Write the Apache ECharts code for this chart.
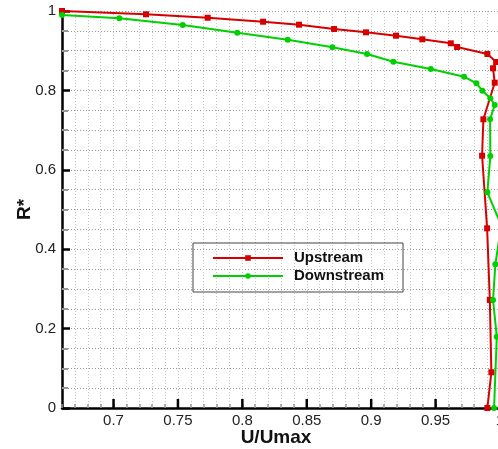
<!DOCTYPE html>
<html>
<head>
<meta charset="utf-8">
<script src="https://cdn.jsdelivr.net/npm/echarts@6/dist/echarts.min.js"></script>
<style>
  html, body { margin: 0; padding: 0; background: #fff; }
  #chart { width: 498px; height: 449px; }
</style>
</head>
<body>
<div id="chart"></div>
<script>
// velocity profiles
var upstreamU = [0.66, 0.7252, 0.7731, 0.8161, 0.844, 0.8712, 0.896, 0.9193, 0.9397, 0.9618, 0.9667,
  0.9902, 0.997, 0.9946, 0.9959, 0.9871, 0.9861, 0.99, 0.9921, 0.9933, 0.9902];
var upstreamR = [1.0, 0.9917, 0.983, 0.973, 0.9655, 0.9547, 0.9463, 0.9378, 0.9287, 0.9186, 0.9093,
  0.8917, 0.8715, 0.8557, 0.8194, 0.7272, 0.6355, 0.4526, 0.272, 0.09, 0];
var downstreamU = [0.66, 0.7045, 0.7537, 0.7961, 0.8352, 0.8699, 0.8968, 0.9172, 0.9463, 0.9721, 0.9817,
  0.9863, 0.9925, 0.9959, 0.9923, 0.9925, 0.9902, 1.001, 0.9964, 0.9946, 0.9975, 0.9954];
var downstreamR = [0.99, 0.9816, 0.9647, 0.9453, 0.9277, 0.9086, 0.8917, 0.8723, 0.8539, 0.8345, 0.8179,
  0.7993, 0.7801, 0.7632, 0.7272, 0.6348, 0.5433, 0.46, 0.362, 0.272, 0.1796, 0];
var xMajorTicks = [0.7, 0.75, 0.8, 0.85, 0.9, 0.95];

function pairs(xs, ys) {
  return xs.map(function (x, i) { return [x, ys[i]]; });
}

var font = 'Arial, "Liberation Sans", sans-serif';

var myChart = echarts.init(document.getElementById('chart'));
myChart.setOption({
  animation: false,
  grid: {
    left: 62, top: 11, width: 438, height: 397,
    containLabel: false, outerBoundsMode: 'none'
  },
  legend: {
    orient: 'vertical',
    left: 193, top: 243,
    padding: [6, 19, 7, 19],
    itemWidth: 70, itemHeight: 7, itemGap: 0,
    borderColor: '#444', borderWidth: 1,
    textStyle: {
      fontFamily: font, fontWeight: 'bold', fontSize: 15, color: '#111',
      lineHeight: 18, padding: [0, 0, 0, 6]
    },
    data: ['Upstream', 'Downstream']
  },
  xAxis: {
    type: 'value',
    min: 0.66, max: 1.0, interval: 0.01,
    name: 'U/Umax', nameLocation: 'middle', nameGap: 20, nameMoveOverlap: false,
    nameTextStyle: { fontFamily: font, fontWeight: 'bold', fontSize: 19, color: '#111', padding: [0, 10, 0, 0] },
    axisLine: { show: true, lineStyle: { color: '#000', width: 2.5 } },
    axisTick: { show: true, inside: true, length: 4, lineStyle: { color: '#999', width: 1.5 } },
    axisLabel: {
      margin: 5, fontFamily: font, fontSize: 15, color: '#222',
      formatter: function (v) {
        var k = Math.round(v * 100);
        return k % 5 === 0 ? String(k / 100) : '';
      }
    },
    splitLine: { show: true, lineStyle: { color: '#c4c4c4', type: [1, 2], width: 1 } }
  },
  yAxis: {
    type: 'value',
    min: 0, max: 1, interval: 0.2,
    name: 'R*', nameLocation: 'middle', nameGap: 28, nameRotate: 90, nameMoveOverlap: false,
    nameTextStyle: { fontFamily: font, fontWeight: 'bold', fontSize: 19, color: '#111' },
    axisLine: { show: true, lineStyle: { color: '#000', width: 2.5 } },
    axisTick: { show: true, inside: true, length: 8, lineStyle: { color: '#000', width: 2.5 } },
    minorTick: { show: true, splitNumber: 4, length: 6, lineStyle: { color: '#999', width: 2 } },
    axisLabel: { margin: 6, fontFamily: font, fontSize: 15, color: '#222' },
    splitLine: { show: true, lineStyle: { color: '#999', type: [1, 2], width: 1 } },
    minorSplitLine: { show: true, lineStyle: { color: '#999', type: [1, 2], width: 1 } }
  },
  series: [{
    name: 'Upstream',
    type: 'line',
    data: pairs(upstreamU, upstreamR),
    symbol: 'rect', symbolSize: 6, showAllSymbol: true,
    itemStyle: { color: '#d60000' },
    lineStyle: { color: '#d60000', width: 2 }
  }, {
    name: 'Downstream',
    type: 'line',
    data: pairs(downstreamU, downstreamR),
    symbol: 'circle', symbolSize: 6, showAllSymbol: true,
    itemStyle: { color: '#00d000' },
    lineStyle: { color: '#00d000', width: 2 }
  }, {
    // major x ticks, placed on the value scale at R* = 0
    name: 'majorTicks',
    type: 'custom',
    silent: true,
    clip: false,
    z: 10,
    data: xMajorTicks.map(function (v) { return [v, 0]; }),
    encode: { x: 0, y: 1 },
    renderItem: function (params, api) {
      var p = api.coord([api.value(0), api.value(1)]);
      return {
        type: 'line',
        shape: { x1: p[0], y1: p[1], x2: p[0], y2: p[1] - 9 },
        style: { stroke: '#000', lineWidth: 2.5 }
      };
    }
  }]
});
</script>
</body>
</html>
